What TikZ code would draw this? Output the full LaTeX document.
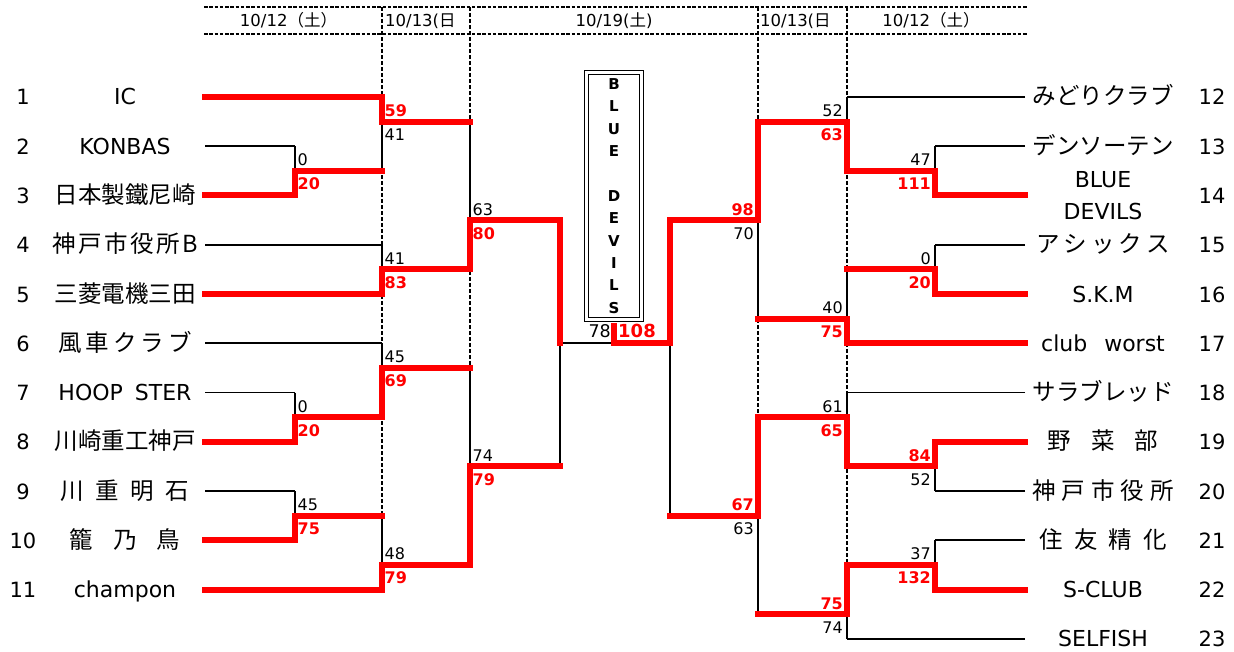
\documentclass[tikz,border=0pt]{standalone}
\usepackage{fontspec}
\setmainfont{DejaVu Sans}
\newfontfamily\cjk{Noto Sans CJK JP}
\usepackage{tikz}
\usepackage{xcolor}
\newcommand{\jp}{\cjk\fontsize{23.5}{23.5}\selectfont}
\newcommand{\hjp}{\cjk\fontsize{16.5}{16.5}\selectfont}

\begin{document}
\begin{tikzpicture}[x=1pt, y=-1pt,
  win/.style={red, line width=6pt, line cap=rect},
  lose/.style={black, line width=1.6pt},
  guide/.style={black, line width=1.3pt, dash pattern=on 4pt off 2pt},
  team/.style={font=\fontsize{22}{22}\selectfont, inner sep=0pt, text height=16pt, text depth=0pt},
  num/.style={team, font=\fontsize{21}{21}\selectfont},
  sc/.style={font=\fontsize{16}{16}\selectfont, inner sep=0pt},
  wsc/.style={sc, text=red, font=\bfseries\fontsize{16}{16}\selectfont},
  lt/.style={anchor=base west, xshift=2.5pt, yshift=5pt},
  lb/.style={anchor=base west, xshift=2.5pt, yshift=-19pt},
  rt/.style={anchor=base east, xshift=-4pt, yshift=5pt},
  rb/.style={anchor=base east, xshift=-4pt, yshift=-19pt},
  day/.style={font=\fontsize{16.5}{16.5}\selectfont, inner sep=0pt, anchor=base}]
  \useasboundingbox (0,0) rectangle (1234,652);

  % Define bracket coordinates
  \foreach \x/\c in {205/a,295/b,382/c,470/d,560/e,614/f,670/g,758/h,847/i,935/j,1025/k}
    \foreach \i in {1,...,23}
      \coordinate (\c\i) at (\x, {97+(\i-1)*24.625});

  % Header
  \draw[guide, dash pattern=on 3.5pt off 1.75pt] (204,7) -- (1027,7);
  \draw[guide, dash pattern=on 3.5pt off 1.75pt] (204,34) -- (1027,34);
  \foreach \c/\j in {c/21,d/20,h/22,i/23}
    \draw[guide] (\c1 |- 0,7) -- (\c\j);
  \node[day] (dd1) at (288.5,26.5) {10/12{\hjp（土）}};
  \node[day, anchor=base west] (dd2) at (385,26.5) {10/13({\hjp 日}};
  \node[day] (dd3) at (614,26.5) {10/19({\hjp 土})};
  \node[day, anchor=base west] (dd4) at (760,26.5) {10/13({\hjp 日}};
  \node[day] (dd5) at (931,26.5) {10/12{\hjp（土）}};

  % Champion box
  \node[draw, double, double distance=2.4pt, line width=1.3pt, minimum width=55pt,
    minimum height=247pt, inner sep=0pt, align=center,
    font=\bfseries\fontsize{15}{22.4}\selectfont] (champ) at (614,196)
    {B\\L\\U\\E\\[22.4pt]D\\E\\V\\I\\L\\S};

  % Left side lines
  \draw[lose] (a3) -- (b3);
  \draw[lose] (a7) -- (c7);
  \draw[lose] (a11) -- (c11);
  \draw[lose] (a13) -- (b13);
  \draw[lose] (a17) -- (b17);
  \draw[lose] (b3) -- (b4);
  \draw[lose] (c4) -- (c2);
  \draw[lose] (c7) -- (c8);
  \draw[lose] (d2) -- (d6);
  \draw[lose] (b13) -- (b14);
  \draw[lose] (c11) -- (c12);
  \draw[lose] (b17) -- (b18);
  \draw[lose] (c18) -- (c20);
  \draw[lose] (d12) -- (d16);
  \draw[lose] (e16) -- (e11);
  \draw[lose] (e11) -- (f11);

  \draw[win] (a1) -- (c1);
  \draw[win] (a5) -- (b5);
  \draw[win] (a9) -- (c9);
  \draw[win] (a15) -- (b15);
  \draw[win] (a19) -- (b19);
  \draw[win] (a21) -- (c21);
  \draw[win] (b5) |- (c4);
  \draw[win] (c1) |- (d2);
  \draw[win] (c9) |- (d8);
  \draw[win] (d8) |- (e6);
  \draw[win] (b15) |- (c14);
  \draw[win] (c14) |- (d12);
  \draw[win] (b19) |- (c18);
  \draw[win] (c21) |- (d20);
  \draw[win] (d20) |- (e16);
  \draw[win] (e6) -- (e11);

  % Right side lines
  \draw[lose] (k1) -- (i1);
  \draw[lose] (k3) -- (j3);
  \draw[lose] (k7) -- (j7);
  \draw[lose] (k13) -- (i13);
  \draw[lose] (k17) -- (j17);
  \draw[lose] (k19) -- (j19);
  \draw[lose] (k23) -- (i23);
  \draw[lose] (j3) -- (j4);
  \draw[lose] (i1) -- (i2);
  \draw[lose] (j7) -- (j8);
  \draw[lose] (i8) -- (i10);
  \draw[lose] (h10) -- (h6);
  \draw[lose] (j17) -- (j16);
  \draw[lose] (i13) -- (i14);
  \draw[lose] (j19) -- (j20);
  \draw[lose] (i23) -- (i22);
  \draw[lose] (h22) -- (h18);
  \draw[lose] (g18) -- (g11);

  \draw[win] (k5) -- (j5);
  \draw[win] (k9) -- (j9);
  \draw[win] (k11) -- (i11);
  \draw[win] (k15) -- (j15);
  \draw[win] (k21) -- (j21);
  \draw[win] (j5) |- (i4);
  \draw[win] (i4) |- (h2);
  \draw[win] (j9) |- (i8);
  \draw[win] (i11) |- (h10);
  \draw[win] (h2) |- (g6);
  \draw[win] (j15) |- (i16);
  \draw[win] (i16) |- (h14);
  \draw[win] (j21) |- (i20);
  \draw[win] (i20) |- (h22);
  \draw[win] (h14) |- (g18);
  \draw[win] (g6) |- (f11);
  \draw[win, line cap=butt] (f11) -- ([yshift=-2.5pt]champ.south);

  % Teams
  \foreach \n/\t in {1/IC, 2/KONBAS, 3/{\jp 日本製鐵尼崎},
      4/{\jp 神\hspace{2.5pt}戸\hspace{2.5pt}市\hspace{2.5pt}役\hspace{2.5pt}所\hspace{2.5pt}B},
      5/{\jp 三菱電機三田}, 6/{\jp 風\hspace{4pt}車\hspace{4pt}ク\hspace{4pt}ラ\hspace{4pt}ブ},
      7/HOOP\hspace{12pt}STER, 8/{\jp 川崎重工神戸},
      9/{\jp 川\hspace{11.5pt}重\hspace{11.5pt}明\hspace{11.5pt}石},
      10/{\jp 籠\hspace{20pt}乃\hspace{20pt}鳥}, 11/champon}
  {
    \pgfmathtruncatemacro\row{2*\n-1}
    \node[team] (t\n) at ([xshift=-80pt]a\row) {\t};
    \node[num] (n\n) at ([xshift=-182pt]a\row) {\n};
  }
  \foreach \n/\t in {12/{\jp みどりクラブ}, 13/{\jp デンソーテン},
      15/{\jp ア\hspace{4pt}シ\hspace{4pt}ッ\hspace{4pt}ク\hspace{4pt}ス}, 16/S.K.M,
      17/club\hspace{17pt}worst, 18/{\jp サラブレッド},
      19/{\jp 野\hspace{20pt}菜\hspace{20pt}部},
      20/{\jp 神\hspace{6pt}戸\hspace{6pt}市\hspace{6pt}役\hspace{6pt}所},
      21/{\jp 住\hspace{11pt}友\hspace{11pt}精\hspace{11pt}化}, 22/S-CLUB, 23/SELFISH}
  {
    \pgfmathtruncatemacro\row{2*\n-23}
    \node[team] (t\n) at ([xshift=78pt]k\row) {\t};
    \node[num] (n\n) at ([xshift=187pt]k\row) {\n};
  }
  \node[font=\fontsize{22}{32.5}\selectfont, align=center, inner sep=0pt] (t14)
    at ([xshift=78pt]k5) {BLUE\\DEVILS};
  \node[num] (n14) at ([xshift=187pt]k5) {14};

  % Scores, left
  \node[sc, lt] (s1a) at (b4) {0};
  \node[wsc, lb] (s1b) at (b4) {20};
  \node[wsc, lt] (s2a) at (c2) {59};
  \node[sc, lb] (s2b) at (c2) {41};
  \node[sc, lt] (s3a) at (c8) {41};
  \node[wsc, lb] (s3b) at (c8) {83};
  \node[sc, lt] (s4a) at (d6) {63};
  \node[wsc, lb] (s4b) at (d6) {80};
  \node[sc, lt] (s5a) at (b14) {0};
  \node[wsc, lb] (s5b) at (b14) {20};
  \node[sc, lt] (s6a) at (c12) {45};
  \node[wsc, lb] (s6b) at (c12) {69};
  \node[sc, lt] (s7a) at (b18) {45};
  \node[wsc, lb] (s7b) at (b18) {75};
  \node[sc, lt] (s8a) at (c20) {48};
  \node[wsc, lb] (s8b) at (c20) {79};
  \node[sc, lt] (s9a) at (d16) {74};
  \node[wsc, lb] (s9b) at (d16) {79};

  % Scores, right
  \node[sc, rt] (r1a) at (j4) {47};
  \node[wsc, rb] (r1b) at (j4) {111};
  \node[sc, rt] (r2a) at (i2) {52};
  \node[wsc, rb] (r2b) at (i2) {63};
  \node[sc, rt] (r3a) at (j8) {0};
  \node[wsc, rb] (r3b) at (j8) {20};
  \node[sc, rt] (r4a) at (i10) {40};
  \node[wsc, rb] (r4b) at (i10) {75};
  \node[wsc, rt] (r5a) at (h6) {98};
  \node[sc, rb] (r5b) at (h6) {70};
  \node[wsc, rt] (r6a) at (j16) {84};
  \node[sc, rb] (r6b) at (j16) {52};
  \node[sc, rt] (r7a) at (i14) {61};
  \node[wsc, rb] (r7b) at (i14) {65};
  \node[sc, rt] (r8a) at (j20) {37};
  \node[wsc, rb] (r8b) at (j20) {132};
  \node[wsc, rt] (r9a) at (i22) {75};
  \node[sc, rb] (r9b) at (i22) {74};
  \node[wsc, rt] (r10a) at (h18) {67};
  \node[sc, rb] (r10b) at (h18) {63};

  % Final
  \node[sc, anchor=base east, font=\fontsize{17.5}{17.5}\selectfont] (fa)
    at ([xshift=-3pt, yshift=6pt]f11) {78};
  \node[wsc, anchor=base west, font=\bfseries\fontsize{18}{18}\selectfont] (fb)
    at ([xshift=4pt, yshift=6pt]f11) {108};
\end{tikzpicture}
\end{document}
